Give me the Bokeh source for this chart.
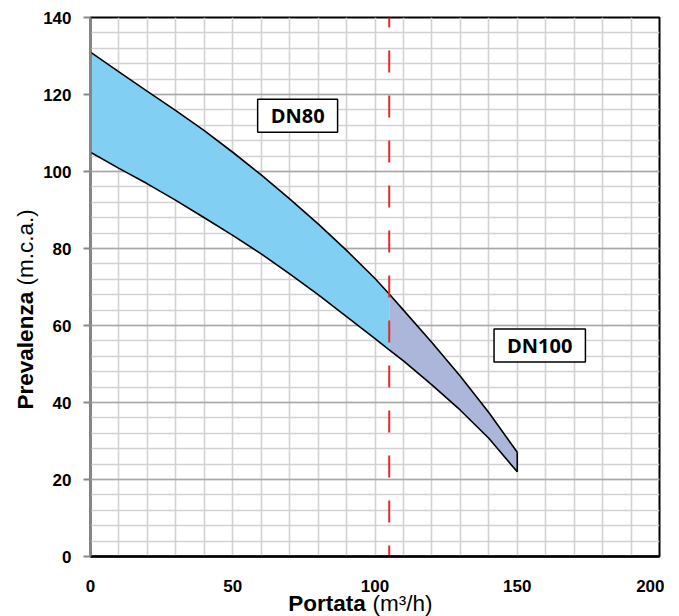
import numpy as np
from bokeh.plotting import figure
from bokeh.models import Range1d, SingleIntervalTicker, FixedTicker, Grid, Label
from bokeh.embed import file_html
from bokeh.resources import INLINE

# Data
x_dn80 = [0, 10, 20, 30, 40, 50, 60, 70, 80, 90, 100, 105]
upper_dn80 = [131, 125.9, 120.8, 115.8, 110.6, 105.0, 99.1, 92.9, 86.4, 79.5, 72.2, 68.2]
lower_dn80 = [105, 100.8, 96.8, 92.5, 88.0, 83.4, 78.6, 73.4, 68.0, 62.3, 56.6, 53.7]

x_dn100 = [105, 110, 120, 130, 140, 150]
upper_dn100 = [68.2, 64.0, 55.6, 46.8, 37.4, 27.1]
lower_dn100 = [53.7, 50.8, 44.6, 38.0, 30.7, 22.0]

dn_split = 105
x_ticks = [0, 50, 100, 150, 200]
y_ticks = [0, 20, 40, 60, 80, 100, 120, 140]

label_dn80 = ("DN80", 72.8, 114.5)
label_dn100 = ("DN100", 157.9, 54.8)

FONT = "Liberation Sans"
TITLE_SIZE = "22.5px"

p = figure(frame_width=569, frame_height=539, output_backend="svg", toolbar_location=None,
           x_range=Range1d(0, 200), y_range=Range1d(0, 140),
           min_border_left=90, min_border_right=5, min_border_top=17, min_border_bottom=58)
p.background_fill_color = "white"
p.border_fill_color = "white"
p.outline_line_color = "black"
p.outline_line_width = 2

# grids
p.xgrid.visible = False
p.ygrid.visible = False
xg = Grid(dimension=0, ticker=SingleIntervalTicker(interval=10), bounds=(0, 200),
          grid_line_color="#d2d2d2", grid_line_width=1.6)
yg = Grid(dimension=1, ticker=SingleIntervalTicker(interval=20, num_minor_ticks=5), bounds=(0, 140),
          grid_line_color="#a8a8a8", grid_line_width=1.6,
          minor_grid_line_color="#d2d2d2", minor_grid_line_width=1.6)
p.add_layout(xg)
p.add_layout(yg)

# axes
p.xaxis.ticker = FixedTicker(ticks=x_ticks)
p.yaxis.ticker = FixedTicker(ticks=y_ticks)
for ax in (p.xaxis[0], p.yaxis[0]):
    ax.major_label_text_font = FONT
    ax.major_label_text_font_style = "bold"
    ax.major_label_text_font_size = "17px"
    ax.major_label_text_color = "black"
    ax.minor_tick_line_color = None
    ax.major_tick_in = 0
p.xaxis.major_tick_out = 0
p.xaxis.axis_line_color = "black"
p.xaxis.axis_line_width = 2.5
p.xaxis.major_label_standoff = 23
p.yaxis.major_tick_out = 7
p.yaxis.major_tick_line_color = "#888888"
p.yaxis.major_tick_line_width = 2
p.yaxis.axis_line_color = "#888888"
p.yaxis.axis_line_width = 2
p.yaxis.major_label_standoff = 12

# bands
p.varea(x=x_dn80, y1=lower_dn80, y2=upper_dn80, fill_color="#82CFF4")
p.varea(x=x_dn100, y1=lower_dn100, y2=upper_dn100, fill_color="#ABB6DA")

# outlines
p.line(x=x_dn80 + x_dn100[1:], y=upper_dn80 + upper_dn100[1:], line_color="black", line_width=1.6)
p.line(x=x_dn80 + x_dn100[1:], y=lower_dn80 + lower_dn100[1:], line_color="black", line_width=1.6)
p.line(x=[x_dn80[0], x_dn80[0]], y=[lower_dn80[0], upper_dn80[0]], line_color="black", line_width=1.6)
p.line(x=[x_dn100[-1], x_dn100[-1]], y=[lower_dn100[-1], upper_dn100[-1]], line_color="black", line_width=1.6)

# red dashed separator
p.line(x=[dn_split, dn_split], y=[140, 0], line_color="#E8262B", line_width=2,
       line_dash="22 23", line_dash_offset=12)

# boxed labels
for txt, lx, ly in (label_dn80, label_dn100):
    p.add_layout(Label(x=lx, y=ly, text=txt, text_align="center", text_baseline="middle",
                       text_font="Open Sans", text_font_style="bold", text_font_size="20px",
                       text_color="black", background_fill_color="white",
                       border_line_color="black", border_line_width=1.5,
                       padding=dict(left=13, right=13, top=3, bottom=3)))

# axis titles (mixed weight); labels live in side panels so they are not clipped to the frame
p.add_layout(Label(x=-22.8, y=38.2, text="Prevalenza", angle=np.pi / 2, text_align="left",
                   text_baseline="middle", text_font=FONT, text_font_style="bold",
                   text_font_size=TITLE_SIZE, text_color="black"), "left")
p.add_layout(Label(x=69.5, y=-12.3, text="Portata", text_align="left", text_baseline="middle",
                   text_font=FONT, text_font_style="bold", text_font_size=TITLE_SIZE,
                   text_color="black"), "below")
p.add_layout(Label(x=99.1, y=-12.3, text="(m³/h)", text_align="left", text_baseline="middle",
                   text_font=FONT, text_font_style="normal", text_font_size=TITLE_SIZE,
                   text_color="black"), "below")
p.add_layout(Label(x=-22.8, y=70.4, text="(m.c.a.)", angle=np.pi / 2, text_align="left",
                   text_baseline="middle", text_font=FONT, text_font_style="normal",
                   text_font_size=TITLE_SIZE, text_color="black"), "below")

open("out.html", "w").write(file_html(p, INLINE))
